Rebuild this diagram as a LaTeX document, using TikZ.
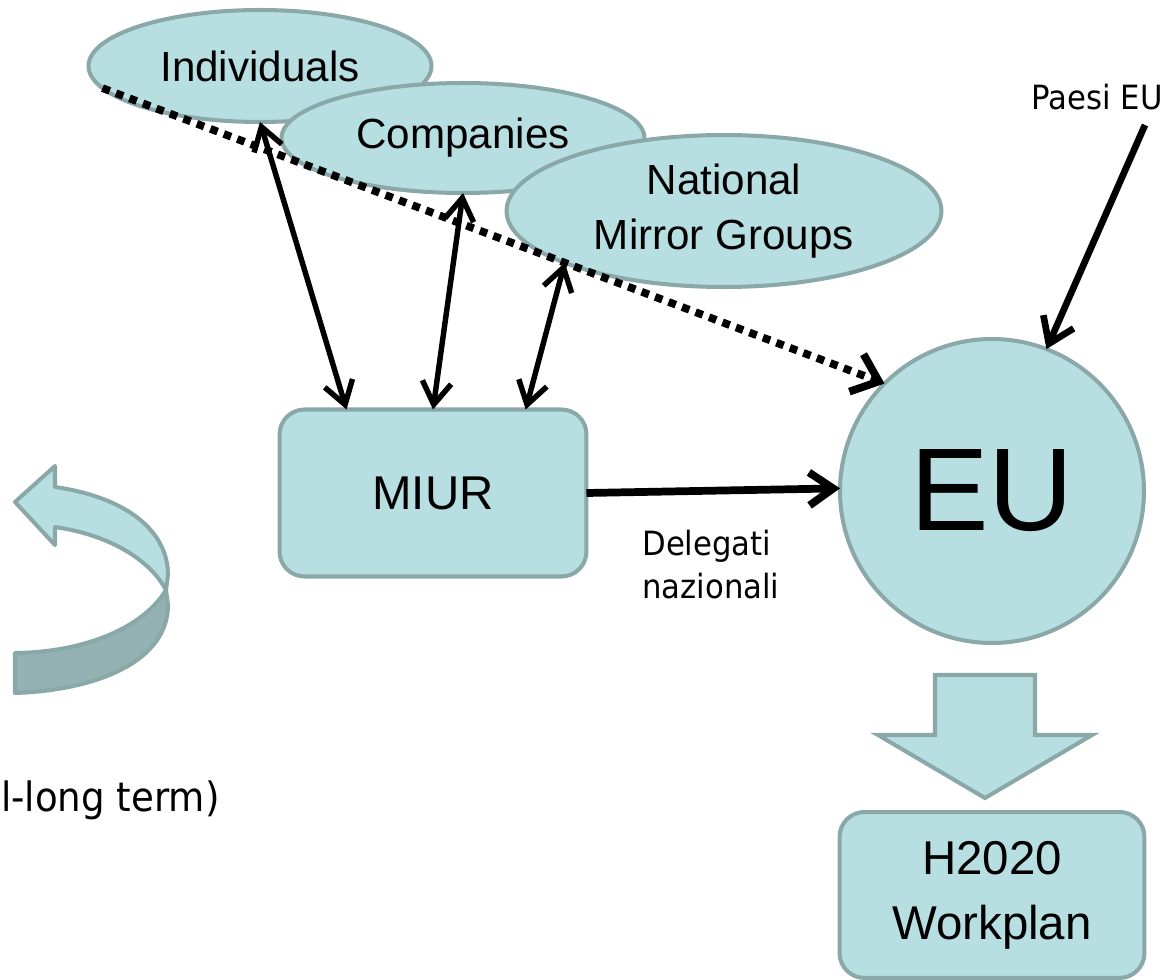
\documentclass[tikz,border=0pt]{standalone}
\usepackage{fontspec}
\setmainfont{Liberation Sans}
\newfontfamily\notefont[FakeStretch=0.92]{DejaVu Sans}
\usetikzlibrary{shapes.geometric,arrows.meta}
\definecolor{paleteal}{RGB}{183,223,226}
\definecolor{edgeteal}{RGB}{138,168,168}
\definecolor{darkteal}{RGB}{148,178,179}
\tikzset{
  oval/.style={ellipse,draw=edgeteal,fill=paleteal,line width=2.3pt,inner sep=0pt,outer sep=0pt,align=center,font=\fontsize{24}{31}\selectfont},
  roundbox/.style={rectangle,rounded corners=0.5cm,draw=edgeteal,fill=paleteal,line width=2.3pt,outer sep=0pt,align=center,font=\fontsize{27}{37}\selectfont},
  twoway/.style={line width=3.1pt,{Straight Barb[length=0.45cm,width=0.58cm]}-{Straight Barb[length=0.45cm,width=0.58cm]}},
  oneway/.style={line width=#1,-{Straight Barb[length=0.48cm,width=0.66cm]}},
  note/.style={font=\notefont\fontsize{19}{24.5}\selectfont,inner sep=0pt}
}
\begin{document}
\begin{tikzpicture}[x=0.02cm,y=-0.02cm]
  \useasboundingbox (0,0) rectangle (1174,980);
  \node[oval,minimum width=6.86cm,minimum height=2.24cm] (ind) at (260,66) {Individuals};
  \node[oval,minimum width=7.26cm,minimum height=2.2cm] (comp) at (463,138) {Companies};
  \node[oval,minimum width=8.7cm,minimum height=3.04cm] (nmg) at (724,211) {National\\Mirror Groups};
  \node[roundbox,minimum width=6.14cm,minimum height=3.34cm] (miur) at (433,493) {MIUR};
  \node[circle,draw=edgeteal,fill=paleteal,line width=2.3pt,inner sep=0pt,outer sep=0pt,minimum size=6.08cm,font=\fontsize{67}{67}\selectfont] (eu) at (992,491) {EU};
  \node[roundbox,minimum width=6.1cm,minimum height=3.32cm] (plan) at (992,895) {H2020\\Workplan};
  \node[note,anchor=base east] (paesi) at (1163,110) {Paesi EU};
  \coordinate (paesifoot) at (1145,125);
  \node[note,anchor=north west,align=left] (deleg) at (642,530) {Delegati\\nazionali};
  \node[note,font=\notefont\fontsize{23}{26}\selectfont,anchor=base east] (term) at (220,811) {l-long term)};
  \draw[line width=4.4pt,dash pattern=on 4.4pt off 3.8pt,-{Straight Barb[length=0.48cm,width=0.8cm]}] (ind.188) -- (eu.135);
  \draw[twoway] (ind.south) -- (miur.136);
  \draw[twoway] (comp.south) -- (miur.north);
  \draw[twoway] (nmg.198) -- (miur.42);
  \draw[oneway=4.4pt] (miur.east) -- (eu.179);
  \draw[oneway=3.8pt] (paesifoot) -- (eu.69);
  \draw[draw=edgeteal,fill=paleteal,line width=2.3pt] (935,675) -- (1035,675) -- (1035,735) -- (1092,735) -- (985,798) -- (878,735) -- (935,735) -- cycle;
  \draw[edgeteal,fill=paleteal,line width=2.3pt,line join=round] (15,502) -- (55,466) -- (55,487) .. controls (125,497) and (168,530) .. (168,575) -- (166,590) .. controls (150,560) and (110,535) .. (55,527) -- (55,545) -- cycle;
  \draw[edgeteal,fill=darkteal,line width=2.3pt,line join=round] (166,590) .. controls (145,625) and (90,652) .. (15,653) -- (15,693) .. controls (100,690) and (168,660) .. (168,605) -- cycle;
\end{tikzpicture}
\end{document}
